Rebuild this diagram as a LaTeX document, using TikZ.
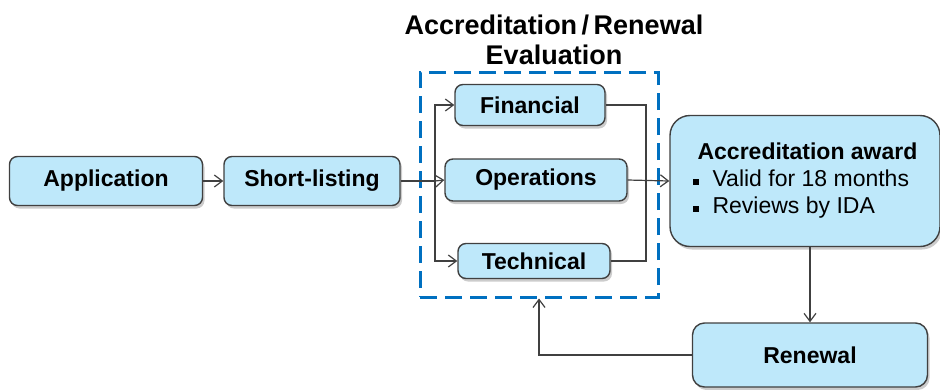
\documentclass[tikz,border=0pt]{standalone}
\usepackage{fontspec}
\setmainfont{Liberation Sans}
\usetikzlibrary{arrows.meta,positioning,shadows}
\definecolor{boxfill}{RGB}{190,232,250}
\definecolor{evalblue}{RGB}{0,112,192}
\definecolor{linegray}{RGB}{64,64,64}

\begin{document}
\begin{tikzpicture}[x=1pt,y=-1pt,>={Straight Barb[length=8pt,width=12pt]},
    line width=1.2pt,
    box/.style={draw=linegray,fill=boxfill,rounded corners=8pt,line width=1.4pt,
      drop shadow={shadow xshift=2pt,shadow yshift=-3pt,fill=black!40},
      font=\fontsize{23}{27}\selectfont\bfseries,inner sep=0pt},
    link/.style={draw=linegray,line width=1.2pt}]

    \useasboundingbox (0,0) rectangle (940,389);

    % title and the evaluation frame
    \node[font=\fontsize{27}{30}\selectfont\bfseries,align=center] (title)
        at (554,40) {Accreditation\,/\,Renewal\\Evaluation};
    \node[draw=evalblue,dash pattern=on 17pt off 8pt,line width=3pt,
        minimum width=238pt,minimum height=225pt,inner sep=0pt] (evalbox)
        at (539,184.5) {};

    \node[box,minimum width=193pt,minimum height=49pt] (app)   at (106,181) {Application};
    \node[box,minimum width=176pt,minimum height=49pt] (short) at (312,181) {Short-listing};

    \node[box,minimum width=150pt,minimum height=41pt] (fin)  at (530,105) {Financial};
    \node[box,minimum width=182pt,minimum height=42pt] (ops)  at (536,180) {Operations};
    \node[box,minimum width=152pt,minimum height=35pt] (tech) at (534,261) {Technical};

    \node[box,rounded corners=20pt,minimum width=270pt,minimum height=131pt,
        font=\fontsize{23}{27}\selectfont,align=left] (award) at (805,181)
        {\hspace*{5pt}\textbf{Accreditation award}\\
         \rule[2pt]{6pt}{6pt}\hspace{14pt}Valid for 18 months\\
         \rule[2pt]{6pt}{6pt}\hspace{14pt}Reviews by IDA};
    \useasboundingbox (0,0) rectangle (940,389);

    \node[box,rounded corners=12pt,minimum width=235pt,minimum height=64pt] (renew)
        at (810,355) {Renewal};

    \coordinate (split) at (435,181);
    \coordinate (join)  at (646,180);

    \path[link,->] (app) -- (short);
    \path[link] (short.east) -- (split);
    \path[link,->] (split) -- (ops.west);
    \path[link,->] (split) |- (fin.west);
    \path[link,->] (split) |- (tech.west);
    \path[link] (fin.east) -| (join);
    \path[link] (tech.east) -| (join);
    \path[link,->] (ops.east) -- (award.west);
    \path[link,->] (award.south -| renew.north) -- (renew.north);
    \path[link,->] (renew.west) -| (evalbox.south);
\end{tikzpicture}
\end{document}
